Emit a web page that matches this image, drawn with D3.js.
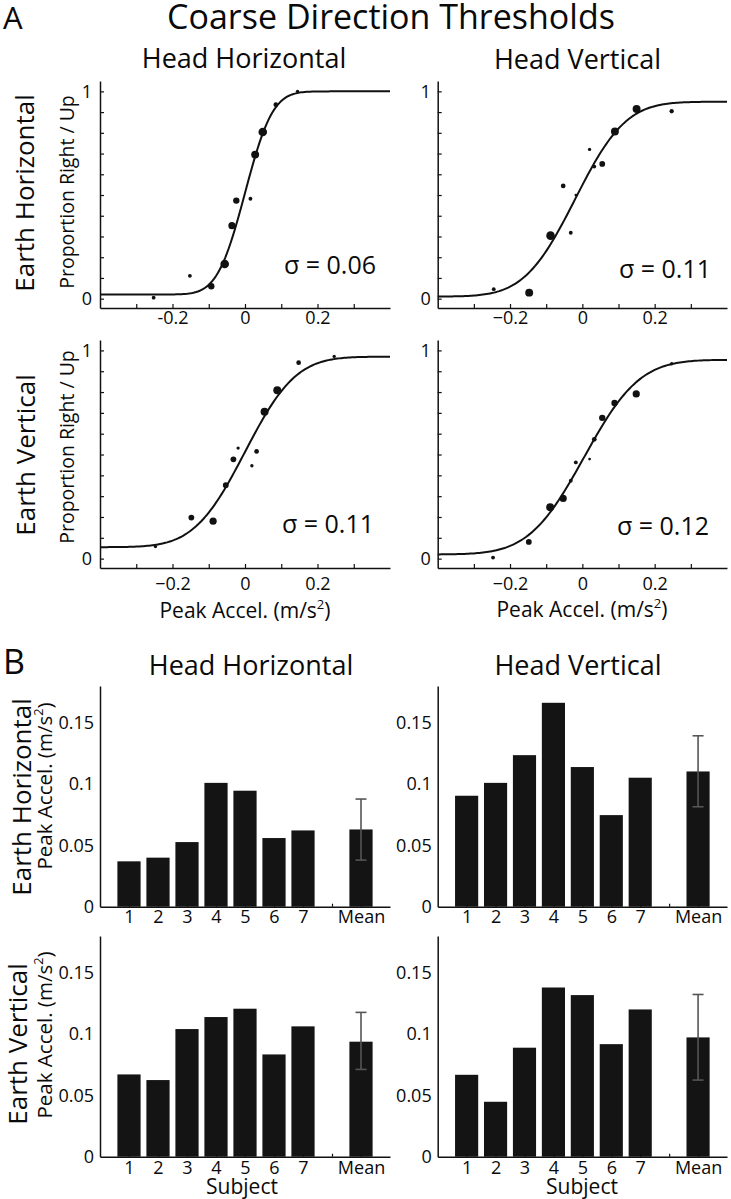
<!DOCTYPE html>
<html><head><meta charset="utf-8">
<script src="https://cdn.jsdelivr.net/npm/d3@7"></script>
<style>
body{margin:0;background:#fff}
svg{display:block;background:#fff}
text{font-family:'Open Sans',sans-serif;fill:#0a0a0a}
</style>
</head><body>
<svg id="c" width="731" height="1199"></svg>
<script>
// ---------- DATA ----------
// Psychometric panels: stimulus peak acceleration (m/s^2), proportion right/up, trial count (dot size)
const hhEH_x = [-0.252,-0.152,-0.093,-0.056,-0.036,-0.024,0.015,0.028,0.049,0.085,0.145];
const hhEH_p = [0.005,0.11,0.06,0.167,0.352,0.473,0.482,0.695,0.804,0.936,1.0];
const hhEH_n = [4,4,11,20,14,11,4,17,20,6,3];

const hvEH_x = [-0.245,-0.147,-0.088,-0.053,-0.032,-0.018,0.02,0.033,0.055,0.09,0.15,0.247];
const hvEH_p = [0.046,0.029,0.304,0.544,0.318,0.5,0.72,0.637,0.65,0.806,0.915,0.904];
const hvEH_n = [4,17,20,6,4,2,3,4,9,17,17,5];

const hhEV_x = [-0.247,-0.148,-0.088,-0.053,-0.032,-0.019,0.019,0.032,0.054,0.089,0.148,0.246];
const hhEV_p = [0.058,0.197,0.18,0.353,0.477,0.531,0.446,0.515,0.705,0.809,0.941,0.971];
const hhEV_n = [3,9,14,9,9,3,3,6,17,17,6,3];

const hvEV_x = [-0.247,-0.148,-0.089,-0.053,-0.032,-0.018,0.02,0.033,0.055,0.089,0.149,0.247];
const hvEV_p = [0.005,0.08,0.247,0.289,0.374,0.462,0.478,0.573,0.676,0.748,0.791,0.936];
const hvEV_n = [4,9,17,14,4,4,2,6,11,11,14,3];

// Cumulative-Gaussian fit parameters (order: HH/EH, HV/EH, HH/EV, HV/EV)
const fitSigma = [0.06,0.11,0.11,0.12];
const fitMu    = [0.0,-0.02,0.0,0.005];
const fitLow   = [0.02,0.01,0.055,0.02];
const fitHigh  = [1.0,0.95,0.97,0.955];
const sigmaLabels = ["σ = 0.06","σ = 0.11","σ = 0.11","σ = 0.12"];

// Axis ticks
const psychXTicks = [-0.3,-0.2,-0.1,0,0.1,0.2,0.3];
const psychXLabelVals = [-0.2,0,0.2];
const psychXLabelsHyphen = ["-0.2","0","0.2"];
const psychXLabelsMinus = ["\u22120.2","0","0.2"];
const psychYTicks = [0,0.1,0.2,0.3,0.4,0.5,0.6,0.7,0.8,0.9,1];
const psychYLabelVals = [0,1];
const psychYLabels = ["0","1"];

// Bar panels: thresholds per subject (m/s^2)
const subjects = ["1","2","3","4","5","6","7"];
const hhEH_thr = [0.037,0.040,0.0527,0.101,0.0946,0.056,0.0622];
const hvEH_thr = [0.0905,0.101,0.1236,0.1663,0.1139,0.0747,0.1052];
const hhEV_thr = [0.0671,0.0625,0.1041,0.1139,0.1207,0.0834,0.1063];
const hvEV_thr = [0.0668,0.0448,0.0889,0.138,0.1318,0.0918,0.1201];
const meanThr = [0.063,0.1103,0.0938,0.0973];
const meanLo  = [0.038,0.0815,0.0712,0.0625];
const meanHi  = [0.0878,0.1394,0.1177,0.1323];
const barYTicks = [0,0.05,0.1,0.15];
const barYLabels = ["0","0.05","0.1","0.15"];
const barXTicks = [1,2,3,4,5,6,7,8,9];
const barXLabels = ["1","2","3","4","5","6","7","","Mean"];

// ---------- HELPERS ----------
function erf(x){
  const s = Math.sign(x); x = Math.abs(x);
  const t = 1/(1+0.3275911*x);
  const y = 1-(((((1.061405429*t-1.453152027)*t)+1.421413741)*t-0.284496736)*t+0.254829592)*t*Math.exp(-x*x);
  return s*y;
}
const normCdf = z => 0.5*(1+erf(z/Math.SQRT2));

const svg = d3.select("#c");
const AXW = 1.5;
const TICKFS = 18;

function styleAxis(g){
  g.selectAll("path.domain").attr("stroke","#111").attr("stroke-width",AXW);
  g.selectAll(".tick line").attr("stroke","#111").attr("stroke-width",1.2);
  g.selectAll(".tick text").attr("fill","#0a0a0a").attr("font-size",TICKFS)
    .style("font-family","'Open Sans',sans-serif");
}

// ---------- LAYOUT ----------
const colX = [[100,390],[437.7,727]];
const psychRowY = [[308,81],[568,340]];
const barRowY = [[906.7,686],[1156.7,936]];

// ---------- PSYCHOMETRIC PANELS ----------
const psychData = [
  {x:hhEH_x,p:hhEH_p,n:hhEH_n},
  {x:hvEH_x,p:hvEH_p,n:hvEH_n},
  {x:hhEV_x,p:hhEV_p,n:hhEV_n},
  {x:hvEV_x,p:hvEV_p,n:hvEV_n}
];
const sigmaPos = [[284,274],[619,278],[282,533],[617,535]];
const xLabPad = [3,9];

const rScale = d3.scaleSqrt().domain([0,20]).range([0,4.3]);

psychData.forEach((d,i)=>{
  const col = i%2, row = Math.floor(i/2);
  const x = d3.scaleLinear().domain([-0.4,0.4]).range(colX[col]);
  const y = d3.scaleLinear().domain([-0.045,1.05]).range(psychRowY[row]);
  const g = svg.append("g");
  const labs = (i===0)?psychXLabelsHyphen:psychXLabelsMinus;
  const ax = g.append("g").attr("transform",`translate(0,${psychRowY[row][0]})`)
    .call(d3.axisBottom(x).tickValues(psychXTicks).tickSizeInner(-4).tickSizeOuter(0).tickPadding(xLabPad[row])
      .tickFormat(v=>{const k=psychXLabelVals.findIndex(t=>Math.abs(t-v)<1e-9);return k<0?"":labs[k];}));
  styleAxis(ax);
  const ay = g.append("g").attr("transform",`translate(${colX[col][0]},0)`)
    .call(d3.axisLeft(y).tickValues(psychYTicks).tickSizeInner(-4).tickSizeOuter(0).tickPadding(col===0?8:7)
      .tickFormat(v=>{const k=psychYLabelVals.findIndex(t=>Math.abs(t-v)<1e-9);return k<0?"":psychYLabels[k];}));
  styleAxis(ay);

  // fitted curve
  const xs = d3.range(0,161).map(k=>-0.4+k*0.005);
  const f = v => fitLow[i]+(fitHigh[i]-fitLow[i])*normCdf((v-fitMu[i])/fitSigma[i]);
  g.append("path").datum(xs)
    .attr("d",d3.line().x(v=>x(v)).y(v=>y(f(v))))
    .attr("fill","none").attr("stroke","#111").attr("stroke-width",2);

  // data points
  g.selectAll("circle.pt").data(d.x.map((v,k)=>({x:v,p:d.p[k],n:d.n[k]}))).join("circle")
    .attr("class","pt").attr("cx",e=>x(e.x)).attr("cy",e=>y(e.p)).attr("r",e=>rScale(e.n))
    .attr("fill","#111");

  g.append("text").attr("x",sigmaPos[i][0]).attr("y",sigmaPos[i][1])
    .attr("font-size",25).text(sigmaLabels[i]);
});

// ---------- BAR PANELS ----------
const barData = [hhEH_thr,hvEH_thr,hhEV_thr,hvEV_thr];
const barXPad = [4,5];
barData.forEach((vals,i)=>{
  const col = i%2, row = Math.floor(i/2);
  const x = d3.scaleLinear().domain([0,10]).range(colX[col]);
  const y = d3.scaleLinear().domain([0,0.18]).range(barRowY[row]);
  const g = svg.append("g");
  const bw = x(0.8)-x(0);
  const items = vals.map((v,k)=>({pos:k+1,v:v}));
  items.push({pos:9,v:meanThr[i]});
  g.selectAll("rect").data(items).join("rect")
    .attr("x",e=>x(e.pos)-bw/2).attr("width",bw)
    .attr("y",e=>y(e.v)).attr("height",e=>y(0)-y(e.v))
    .attr("fill","#141414");
  // error bar
  const ex = x(9);
  g.append("line").attr("x1",ex).attr("x2",ex).attr("y1",y(meanLo[i])).attr("y2",y(meanHi[i]))
    .attr("stroke","#555").attr("stroke-width",1.6);
  [meanLo[i],meanHi[i]].forEach(v=>{
    g.append("line").attr("x1",ex-5.5).attr("x2",ex+5.5).attr("y1",y(v)).attr("y2",y(v))
      .attr("stroke","#555").attr("stroke-width",1.6);
  });
  const ax = g.append("g").attr("transform",`translate(0,${barRowY[row][0]})`)
    .call(d3.axisBottom(x).tickValues(barXTicks).tickSizeInner(-3).tickSizeOuter(0).tickPadding(barXPad[row])
      .tickFormat((v,k)=>barXLabels[k]));
  styleAxis(ax);
  const ay = g.append("g").attr("transform",`translate(${colX[col][0]},0)`)
    .call(d3.axisLeft(y).tickValues(barYTicks).tickSizeInner(0).tickSizeOuter(0).tickPadding(6)
      .tickFormat((v,k)=>barYLabels[k]));
  styleAxis(ay);
});

// ---------- TEXT ----------
function txt(x,y,s,size,anchor,rot){
  const t = svg.append("text").attr("font-size",size).attr("text-anchor",anchor||"start");
  if(rot){ t.attr("transform",`translate(${x},${y}) rotate(-90)`); }
  else { t.attr("x",x).attr("y",y); }
  t.text(s);
  return t;
}
txt(3,29,"A",31);
txt(391,29,"Coarse Direction Thresholds",34,"middle");
txt(244,68,"Head Horizontal",27,"middle");
txt(577.5,69,"Head Vertical",27,"middle");
txt(3,674,"B",34);
txt(251,675,"Head Horizontal",27,"middle");
txt(578,675,"Head Vertical",27,"middle");

txt(34,193,"Earth Horizontal",26,"middle",true);
txt(35,455,"Earth Vertical",26,"middle",true);
txt(31,797,"Earth Horizontal",26,"middle",true);
txt(27,1044,"Earth Vertical",26,"middle",true);

txt(74,192,"Proportion Right / Up",19.5,"middle",true);
txt(74,447,"Proportion Right / Up",19.5,"middle",true);

function accelLabel(x,y,size,rot){
  const t = svg.append("text").attr("font-size",size).attr("text-anchor","middle");
  if(rot) t.attr("transform",`translate(${x},${y}) rotate(-90)`);
  else t.attr("x",x).attr("y",y);
  t.append("tspan").text("Peak Accel. (m/s");
  t.append("tspan").attr("font-size",size*0.62).attr("dy",-size*0.42).text("2");
  t.append("tspan").attr("dy",size*0.42).text(")");
}
accelLabel(52,786,20.5,true);
accelLabel(52,1035,20.5,true);
accelLabel(245,618,21,false);
accelLabel(582,617,21,false);

txt(242,1194,"Subject",21,"middle");
txt(582,1194,"Subject",21,"middle");
</script>
</body></html>
